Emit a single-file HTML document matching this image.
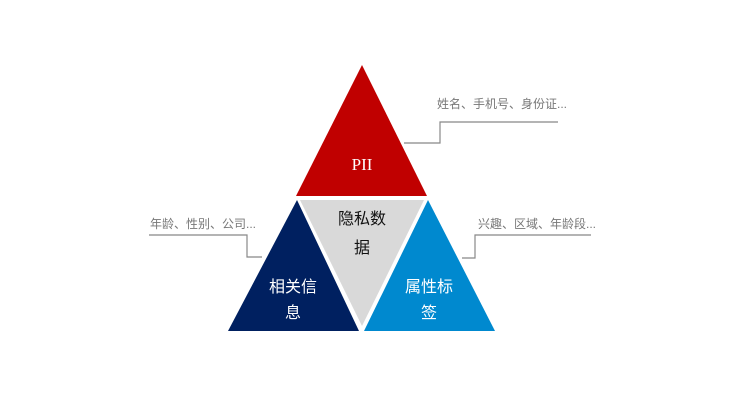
<!DOCTYPE html>
<html><head><meta charset="utf-8"><style>
html,body{margin:0;padding:0;background:#fff;width:744px;height:400px;overflow:hidden}
</style></head><body>
<svg width="744" height="400" xmlns="http://www.w3.org/2000/svg" font-family="'Liberation Sans','Noto Sans CJK SC',sans-serif">
<polygon points="362,65 427,196 296,196" fill="#c00000"/>
<polygon points="300,200 424,200 362,326" fill="#d9d9d9"/>
<polygon points="297,200 359,331 228,331" fill="#002060"/>
<polygon points="428,200 495,331 364,331" fill="#0089cf"/>
<g stroke="#888" stroke-width="1.2" fill="none">
<polyline points="404,143 440,143 440,122 558,122"/>
<polyline points="149,235 247,235 247,257 262,257"/>
<polyline points="462,258 475,258 475,235 591,235"/>
</g>
<g fill="#777" font-size="12">
<text x="437" y="108">姓名、手机号、身份证...</text>
<text x="150" y="228">年龄、性别、公司...</text>
<text x="478" y="228">兴趣、区域、年龄段...</text>
</g>
<text x="362" y="170" fill="#fff" font-size="17" text-anchor="middle" font-family="'Liberation Serif',serif">PII</text>
<g font-size="16" text-anchor="middle">
<text x="362" y="224" fill="#111">隐私数</text>
<text x="362" y="253" fill="#111">据</text>
<text x="293" y="292" fill="#fff">相关信</text>
<text x="293" y="318" fill="#fff">息</text>
<text x="429" y="292" fill="#fff">属性标</text>
<text x="429" y="318" fill="#fff">签</text>
</g>
</svg>
</body></html>
